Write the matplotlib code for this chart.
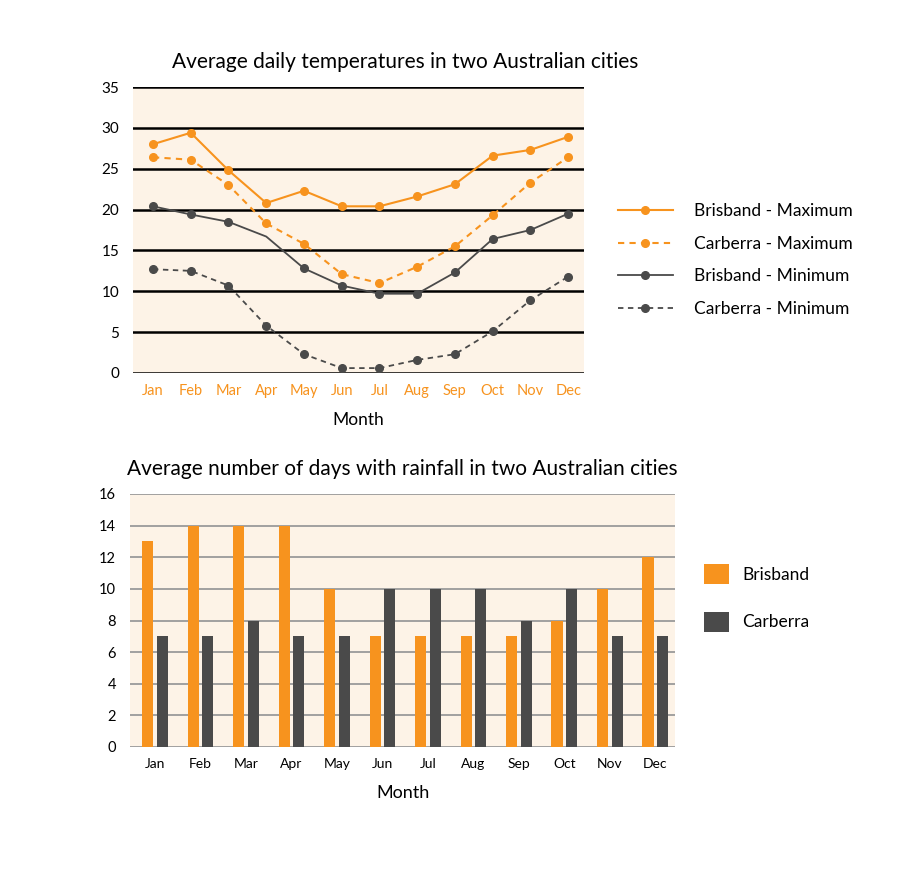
import matplotlib.pyplot as plt
import numpy as np

plt.rcParams['font.family'] = ['Lato', 'DejaVu Sans']

months = ["Jan", "Feb", "Mar", "Apr", "May", "Jun", "Jul", "Aug", "Sep", "Oct", "Nov", "Dec"]

# temperatures (deg C)
bris_max = [28, 29.4, 24.8, 20.8, 22.3, 20.4, 20.4, 21.6, 23.1, 26.6, 27.3, 28.9]
canb_max = [26.4, 26.1, 23.0, 18.3, 15.8, 12.1, 11.0, 13.0, 15.5, 19.3, 23.3, 26.4]
bris_min = [20.4, 19.4, 18.5, 16.7, 12.8, 10.7, 9.7, 9.7, 12.3, 16.4, 17.5, 19.5]
canb_min = [12.7, 12.5, 10.7, 5.8, 2.3, 0.6, 0.6, 1.6, 2.3, 5.1, 8.9, 11.8]

# days with rainfall
bris_rain = [13, 14, 14, 14, 10, 7, 7, 7, 7, 8, 10, 12]
canb_rain = [7, 7, 8, 7, 7, 10, 10, 10, 8, 10, 7, 7]

orange = "#F7931E"
dark = "#4A4A4A"
cream = "#FDF3E7"

W, H = 900, 874
fig = plt.figure(figsize=(9, 8.74), dpi=100)

def rect(l, t, r, b):
    return [l / W, (H - b) / H, (r - l) / W, (b - t) / H]

''' Graphique des temperatures '''
ax1 = fig.add_axes(rect(133, 87, 584, 373))
x = np.arange(12)
ax1.axhspan(0, 35, color=cream, zorder=0)
for v in range(0, 36, 5):
    ax1.axhline(v, color="black", lw=1.8, zorder=1)
ax1.plot(x, bris_max, color=orange, lw=1.5, marker="o", ms=5.5, label="Brisband - Maximum", zorder=3)
ax1.plot(x, canb_max, color=orange, lw=1.5, ls=(0, (3, 2.5)), marker="o", ms=5.5, label="Carberra - Maximum", zorder=3)
ax1.plot(x, bris_min, color=dark, lw=1.3, marker="o", ms=5.5, markevery=[0, 1, 2, 4, 5, 6, 7, 8, 9, 10, 11],
         label="Brisband - Minimum", zorder=3)
ax1.plot(x, canb_min, color=dark, lw=1.3, ls=(0, (3, 2.5)), marker="o", ms=5.5, label="Carberra - Minimum", zorder=3)
ax1.set_xlim(-0.53, 11.42)
ax1.set_ylim(0, 35)
ax1.set_yticks(range(0, 36, 5))
ax1.set_xticks(x)
ax1.set_xticklabels(months, color=orange, fontsize=10.5)
ax1.tick_params(axis="y", labelsize=11, length=0, pad=10)
ax1.tick_params(axis="x", length=0, pad=8)
for s in ax1.spines.values():
    s.set_visible(False)
ax1.set_title("Average daily temperatures in two Australian cities", fontsize=15, pad=14, x=0.603)
ax1.set_xlabel("Month", fontsize=12.5, labelpad=10)
ax1.legend(loc="center left", bbox_to_anchor=(1.04, 0.395), frameon=False, fontsize=12.5,
           handlelength=3.2, labelspacing=0.95, handletextpad=1.2)

''' Graphique des pluies '''
ax2 = fig.add_axes(rect(130, 494, 675, 747))
ax2.axhspan(0, 16, color=cream, zorder=0)
for v in range(0, 17, 2):
    ax2.axhline(v, color="#9A9A9A", lw=1.3, zorder=1)
ax2.bar(x - 0.16, bris_rain, width=0.25, color=orange, label="Brisband", zorder=2)
ax2.bar(x + 0.16, canb_rain, width=0.25, color=dark, label="Carberra", zorder=2)
ax2.set_xlim(-0.55, 11.43)
ax2.set_ylim(0, 16)
ax2.set_yticks(range(0, 17, 2))
ax2.set_xticks(x)
ax2.set_xticklabels(months, fontsize=10)
ax2.tick_params(axis="y", labelsize=10.5, length=0, pad=10)
ax2.tick_params(axis="x", length=0, pad=8)
for s in ax2.spines.values():
    s.set_visible(False)
ax2.set_title("Average number of days with rainfall in two Australian cities", fontsize=15, pad=14)
ax2.set_xlabel("Month", fontsize=13, labelpad=11)
ax2.legend(loc="center left", bbox_to_anchor=(1.025, 0.59), frameon=False, fontsize=12.5,
           handlelength=1.4, handleheight=1.4, labelspacing=1.6, handletextpad=0.8)

plt.savefig("out.png", dpi=100)
